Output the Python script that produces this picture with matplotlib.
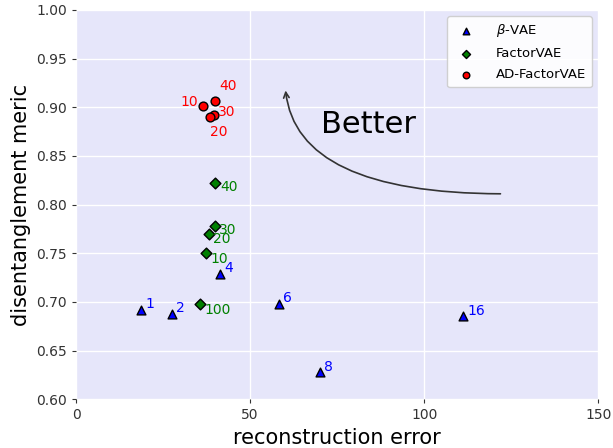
import numpy as np
import matplotlib
matplotlib.use("Agg")
import matplotlib.pyplot as plt

# beta-VAE
beta_x = [18.7, 27.6, 41.4, 58.3, 70.1, 111.2]
beta_y = [0.692, 0.688, 0.729, 0.698, 0.628, 0.685]
beta_lbl = ['1', '2', '4', '6', '8', '16']

# FactorVAE
fac_x = [39.9, 39.9, 38.2, 37.4, 35.6]
fac_y = [0.822, 0.778, 0.770, 0.750, 0.698]
fac_lbl = ['40', '30', '20', '10', '100']

# AD-FactorVAE
ad_x = [39.9, 36.5, 39.7, 38.5]
ad_y = [0.906, 0.901, 0.892, 0.890]
ad_lbl = ['40', '10', '30', '20']

fig = plt.figure(figsize=(6.13, 4.48), dpi=100)
ax = fig.add_axes([0.124, 0.109, 0.852, 0.869])
ax.set_facecolor('#e6e6fa')
for s in ax.spines.values():
    s.set_visible(False)
ax.grid(True, color='white', linewidth=1)
ax.set_axisbelow(True)

ax.scatter(beta_x, beta_y, marker='^', c='blue', edgecolors='black', s=40, label=r'$\beta$-VAE', zorder=3)
ax.scatter(fac_x, fac_y, marker='D', c='green', edgecolors='black', s=30, label='FactorVAE', zorder=3)
ax.scatter(ad_x, ad_y, marker='o', c='red', edgecolors='black', s=40, label='AD-FactorVAE', zorder=3)

for x, y, t in zip(beta_x, beta_y, beta_lbl):
    ax.annotate(t, (x, y), xytext=(3, 1), textcoords='offset points', color='blue', fontsize=10)

fac_off = [(4, -6), (3, -6), (3, -7), (3, -7), (3, -7)]
for (x, y, t), o in zip(zip(fac_x, fac_y, fac_lbl), fac_off):
    ax.annotate(t, (x, y), xytext=o, textcoords='offset points', color='green', fontsize=10)

ad_off = [(3, 8), (-16, 0), (3, -1), (0, -14)]
for (x, y, t), o in zip(zip(ad_x, ad_y, ad_lbl), ad_off):
    ax.annotate(t, (x, y), xytext=o, textcoords='offset points', color='red', fontsize=10)

ax.annotate('', xy=(60.1, 0.920), xytext=(122.7, 0.811),
            arrowprops=dict(arrowstyle='->', color='#333333', lw=1.2,
                            connectionstyle='angle3,angleA=0,angleB=95'))
ax.text(70.5, 0.882, 'Better', fontsize=22, va='center')

ax.set_xlim(0, 150)
ax.set_ylim(0.60, 1.00)
ax.set_xticks([0, 50, 100, 150])
ax.set_yticks(np.arange(0.60, 1.001, 0.05))
ax.set_yticklabels(['%.2f' % v for v in np.arange(0.60, 1.001, 0.05)])
ax.tick_params(colors='#333333', labelsize=10, length=3)
ax.set_xlabel('reconstruction error', fontsize=15)
ax.set_ylabel('disentanglement meric', fontsize=15)
ax.legend(loc='upper right', fontsize=9.5, facecolor='white', framealpha=0.9,
          borderpad=0.45, labelspacing=0.6, markerscale=0.75, handletextpad=1.2)

fig.savefig('out.png', dpi=100)
